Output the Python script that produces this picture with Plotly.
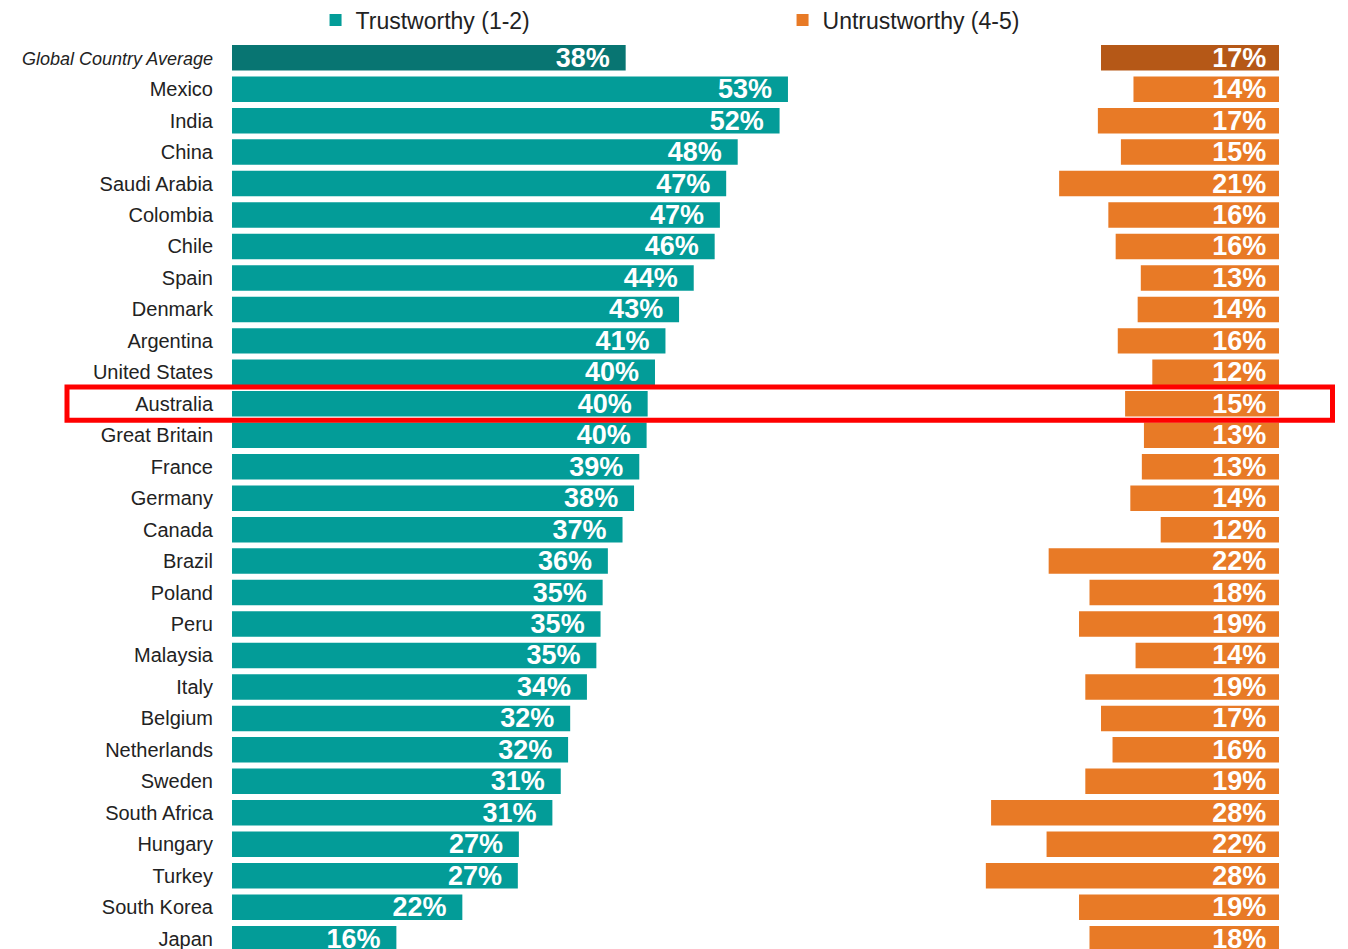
import plotly.graph_objects as go

# ---------------- data ----------------
categories = [
    "Global Country Average", "Mexico", "India", "China", "Saudi Arabia", "Colombia",
    "Chile", "Spain", "Denmark", "Argentina", "United States", "Australia",
    "Great Britain", "France", "Germany", "Canada", "Brazil", "Poland", "Peru",
    "Malaysia", "Italy", "Belgium", "Netherlands", "Sweden", "South Africa",
    "Hungary", "Turkey", "South Korea", "Japan",
]
trust_values = [37.6, 53.1, 52.3, 48.3, 47.2, 46.6, 46.1, 44.1, 42.7, 41.4, 40.4, 39.7,
                39.6, 38.9, 38.4, 37.3, 35.9, 35.4, 35.2, 34.8, 33.9, 32.3, 32.1, 31.4,
                30.6, 27.4, 27.3, 22.0, 15.7]
trust_labels = [38, 53, 52, 48, 47, 47, 46, 44, 43, 41, 40, 40, 40, 39, 38, 37, 36, 35, 35,
                35, 34, 32, 32, 31, 31, 27, 27, 22, 16]
untrust_values = [17.0, 13.9, 17.3, 15.1, 21.0, 16.3, 15.6, 13.2, 13.5, 15.4, 12.1, 14.7,
                  12.9, 13.1, 14.2, 11.3, 22.0, 18.1, 19.1, 13.7, 18.5, 17.0, 15.9, 18.5,
                  27.5, 22.2, 28.0, 19.1, 18.1]
untrust_labels = [17, 14, 17, 15, 21, 16, 16, 13, 14, 16, 12, 15, 13, 13, 14, 12, 22, 18, 19,
                  14, 19, 17, 16, 19, 28, 22, 28, 19, 18]
series_names = ["Trustworthy (1-2)", "Untrustworthy (4-5)"]
highlight = "Australia"

# ---------------- styling ----------------
TEAL, TEAL_DARK = "#039C98", "#087572"
ORANGE, ORANGE_DARK = "#E87A26", "#B55817"
FONT = "Liberation Sans, Arial, sans-serif"
PAD_T = "\u00a0\u2009"
PAD_O = "\u00a0\u200a"

tick_text = ["<i><span style='font-size:18px'>%s</span></i>" % categories[0]] + categories[1:]

text_font = dict(family=FONT, size=27, color="white", weight="bold")
common = dict(orientation="h", textposition="inside", constraintext="none",
              textfont=text_font, hoverinfo="skip", marker_line_width=0)

fig = go.Figure()
# global average (darker)
fig.add_trace(go.Bar(y=categories[:1], x=trust_values[:1],
                     text=[f"{v}%{PAD_T}" for v in trust_labels[:1]],
                     marker_color=TEAL_DARK, insidetextanchor="end", showlegend=False,
                     xaxis="x", **common))
fig.add_trace(go.Bar(y=categories[1:], x=trust_values[1:],
                     text=[f"{v}%{PAD_T}" for v in trust_labels[1:]],
                     marker_color=TEAL, insidetextanchor="end", name=series_names[0],
                     xaxis="x", **common))
fig.add_trace(go.Bar(y=categories[:1], x=untrust_values[:1],
                     text=[f"{v}%{PAD_O}" for v in untrust_labels[:1]],
                     marker_color=ORANGE_DARK, insidetextanchor="start", showlegend=False,
                     xaxis="x2", **common))
fig.add_trace(go.Bar(y=categories[1:], x=untrust_values[1:],
                     text=[f"{v}%{PAD_O}" for v in untrust_labels[1:]],
                     marker_color=ORANGE, insidetextanchor="start", name=series_names[1],
                     xaxis="x2", **common))

hi = categories.index(highlight)
fig.add_shape(type="rect", xref="paper", yref="y", x0=-0.1576, x1=1.0511,
              y0=hi - 0.53, y1=hi + 0.52, line=dict(color="#FF0000", width=5),
              fillcolor="rgba(0,0,0,0)", layer="above")

# page body has an 8px margin, so the figure is shrunk by 8px and margins shifted
fig.update_layout(
    width=1340, height=941,
    margin=dict(l=224, r=69, t=34, b=0, pad=0),
    paper_bgcolor="white", plot_bgcolor="white",
    barmode="overlay", bargap=0.19,
    font=dict(family=FONT, color="#222222"),
    xaxis=dict(range=[0, 100], domain=[0, 1], visible=False, fixedrange=True),
    xaxis2=dict(range=[100, 0], domain=[0, 1], overlaying="x", anchor="y",
                visible=False, fixedrange=True),
    yaxis=dict(type="category", categoryorder="array", categoryarray=categories,
               range=[28.33, -0.5], tickmode="array", tickvals=categories, ticktext=tick_text,
               tickfont=dict(family=FONT, size=20, color="#222222"),
               ticks="outside", ticklen=14, tickcolor="rgba(0,0,0,0)",
               showgrid=False, zeroline=False, showline=False, fixedrange=True),
    legend=dict(orientation="h", xref="paper", x=0.0798, xanchor="left",
                yref="container", y=0.9872, yanchor="middle",
                font=dict(family=FONT, size=23, color="#222222"),
                entrywidth=422, entrywidthmode="pixels", itemclick=False,
                bgcolor="rgba(0,0,0,0)"),
)

fig.write_html("out.html")
